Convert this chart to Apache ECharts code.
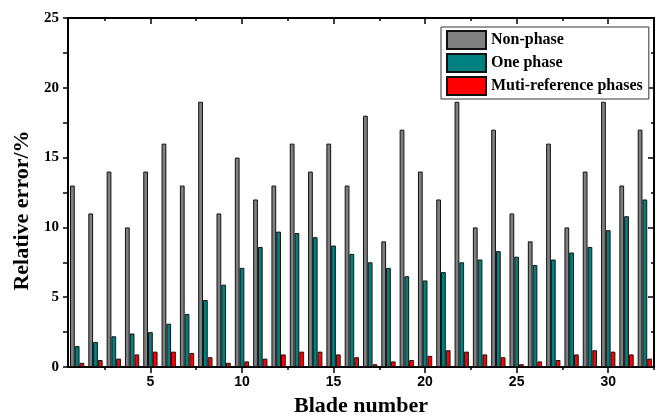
<!DOCTYPE html>
<html><head><meta charset="utf-8">
<script src="https://cdn.jsdelivr.net/npm/echarts@6/dist/echarts.min.js"></script>
<style>html,body{margin:0;padding:0;background:#fff}#c{width:663px;height:416px}</style>
</head><body><div id="c"></div>
<script>
const blades = Array.from({length: 32}, (_, i) => String(i + 1));
const nonPhase = [13, 11, 14, 10, 14, 16, 13, 19, 11, 15, 12, 13, 16, 14, 16, 13, 18, 9, 17, 14, 12, 19, 10, 17, 11, 9, 16, 10, 14, 19, 13, 17];
const onePhase = [1.5, 1.8, 2.2, 2.4, 2.5, 3.1, 3.8, 4.8, 5.9, 7.1, 8.6, 9.7, 9.6, 9.3, 8.7, 8.1, 7.5, 7.1, 6.5, 6.2, 6.8, 7.5, 7.7, 8.3, 7.9, 7.3, 7.7, 8.2, 8.6, 9.8, 10.8, 12.0];
const multiPhase = [0.3, 0.5, 0.6, 0.9, 1.1, 1.1, 1.0, 0.7, 0.3, 0.4, 0.6, 0.9, 1.1, 1.1, 0.9, 0.7, 0.2, 0.4, 0.5, 0.8, 1.2, 1.1, 0.9, 0.7, 0.2, 0.4, 0.5, 0.9, 1.2, 1.1, 0.9, 0.6];
const xMajorTicks = [5, 10, 15, 20, 25, 30];
const xMinorTicks = [2.5, 7.5, 12.5, 17.5, 22.5, 27.5, 32.5];
const seriesNames = ['Non-phase', 'One phase', 'Muti-reference phases'];
const colors = ['#808080', '#008080', '#ff0000'];

const chart = echarts.init(document.getElementById('c'), null, {renderer: 'canvas'});
const axLine = {show: true, lineStyle: {color: '#000', width: 2}};
function tickAxis(pos, vals, len, showLabel, inside) {
  return {
    type: 'value', position: pos, min: 0.5, max: 32.5,
    axisLine: axLine,
    axisTick: {show: true, customValues: vals, length: len, inside: inside, lineStyle: {color: '#000', width: 1.5}},
    axisLabel: showLabel ? {show: true, customValues: vals, color: '#000', fontFamily: 'Liberation Sans', fontWeight: 'bold', fontSize: 14, margin: 8} : {show: false},
    splitLine: {show: false}
  };
}
const xAxes = [
  {type: 'category', data: blades, show: false, boundaryGap: true},
  Object.assign(tickAxis('bottom', xMajorTicks, 6, true, false), {name: 'Blade number', nameLocation: 'middle', nameGap: 28,
    nameTextStyle: {fontFamily: 'Liberation Serif', fontWeight: 'bold', fontSize: 22, color: '#000'}}),
  tickAxis('bottom', xMinorTicks, 3, false, false),
  tickAxis('top', xMajorTicks, 6, false, true),
  tickAxis('top', xMinorTicks, 3, false, true)
];
const yAxes = [
  {type: 'value', position: 'left', min: 0, max: 25, interval: 5,
   name: 'Relative error/%', nameLocation: 'middle', nameGap: 32,
   nameTextStyle: {fontFamily: 'Liberation Serif', fontWeight: 'bold', fontSize: 22, color: '#000', padding: [0, 36, 0, 0]},
   axisLine: axLine,
   axisTick: {show: true, length: 5, lineStyle: {color: '#000', width: 1.5}},
   minorTick: {show: true, splitNumber: 2, length: 5, lineStyle: {color: '#000', width: 1.5}},
   axisLabel: {color: '#000', fontFamily: 'Liberation Serif', fontWeight: 'bold', fontSize: 15, margin: 9},
   splitLine: {show: false}},
  {type: 'value', position: 'right', min: 0, max: 25, interval: 5,
   axisLine: axLine,
   axisTick: {show: true, inside: true, length: 6, lineStyle: {color: '#000', width: 1.5}},
   minorTick: {show: true, splitNumber: 2, length: 3, lineStyle: {color: '#000', width: 1.5}},
   axisLabel: {show: false}, splitLine: {show: false}}
];
const dataSets = [nonPhase, onePhase, multiPhase];
const series = dataSets.map((d, i) => ({
  name: seriesNames[i], type: 'bar', xAxisIndex: 0, yAxisIndex: 0, data: d,
  barGap: '0%', barCategoryGap: '22%',
  itemStyle: {color: colors[i], borderColor: '#111', borderWidth: 1},
  emphasis: {disabled: true}
}));
chart.setOption({
  animation: false,
  backgroundColor: '#fff',
  grid: {left: 68, right: 9, top: 18, bottom: 49, containLabel: false, outerBoundsMode: 'none'},
  legend: {
    orient: 'vertical', left: 441, top: 27, itemWidth: 39, itemHeight: 18, itemGap: 3,
    padding: [3, 6, 3, 5], borderColor: '#333', borderWidth: 1, backgroundColor: '#fff',
    icon: 'rect', data: seriesNames,
    textStyle: {fontFamily: 'Liberation Serif', fontWeight: 'bold', fontSize: 16, color: '#000'}
  },
  xAxis: xAxes, yAxis: yAxes, series: series
});
</script></body></html>
